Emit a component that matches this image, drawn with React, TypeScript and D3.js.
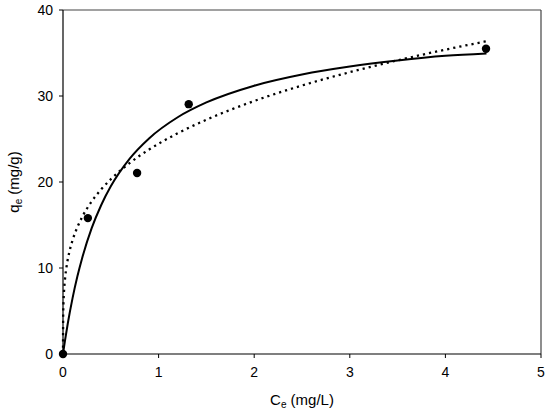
import React from 'react';
import * as d3 from 'd3';

// measured points (Ce, qe)
const ceObs = [0, 0.26, 0.775, 1.315, 4.425];
const qeObs = [0, 15.8, 21.05, 29.05, 35.5];

// solid fit curve
const ceSolid = [0, 0.02, 0.05, 0.1, 0.15, 0.2, 0.3, 0.4, 0.5, 0.7, 0.9, 1.2, 1.5, 2, 2.5, 3, 3.5, 4, 4.43];
const qeSolid = [0, 1.5, 3.55, 6.5, 9.0, 11.14, 14.63, 17.33, 19.5, 22.75, 25.07, 27.53, 29.25, 31.2, 32.5, 33.43, 34.13, 34.67, 34.95];

// dotted fit curve
const ceDot = [0, 0.002, 0.005, 0.01, 0.02, 0.04, 0.07, 0.1, 0.15, 0.2, 0.3, 0.4, 0.5, 0.7, 0.9, 1.2, 1.5, 2, 2.5, 3, 3.5, 4, 4.43];
const qeDot = [0, 4.66, 5.95, 7.16, 8.61, 10.36, 12.03, 13.23, 14.74, 15.92, 17.74, 19.15, 20.32, 22.23, 23.77, 25.67, 27.24, 29.42, 31.22, 32.77, 34.15, 35.39, 36.37];

const xTicks = [0, 1, 2, 3, 4, 5];
const yTicks = [0, 10, 20, 30, 40];

const W = 550;
const H = 418;
const margin = { top: 10, right: 9, bottom: 64, left: 63 };
const font = 'Arial, "Liberation Sans", sans-serif';

const App: React.FC = () => {
  const x = d3.scaleLinear().domain([0, 5]).range([margin.left, W - margin.right]);
  const y = d3.scaleLinear().domain([0, 40]).range([H - margin.bottom, margin.top]);

  const line = d3.line<[number, number]>()
    .x(d => x(d[0]))
    .y(d => y(d[1]))
    .curve(d3.curveMonotoneX);

  const solid = line(ceSolid.map((c, i) => [c, qeSolid[i]]));
  const dotted = line(ceDot.map((c, i) => [c, qeDot[i]]));

  const x0 = x(0), x1 = x(5), y0 = y(0), y1 = y(40);

  return (
    <svg width={W} height={H} style={{ position: 'absolute', left: 0, top: 0, background: '#fff' }}>
      {/* frame: top and right */}
      <line x1={x0} x2={x1} y1={y1} y2={y1} stroke="#444" strokeWidth={1.2} />
      <line x1={x1} x2={x1} y1={y1} y2={y0} stroke="#444" strokeWidth={1.2} />

      {/* y axis */}
      <line x1={x0} x2={x0} y1={y1} y2={y0} stroke="#000" strokeWidth={1.2} />
      {yTicks.map(t => (
        <g key={'y' + t}>
          <line x1={x0 - 4} x2={x0} y1={y(t)} y2={y(t)} stroke="#000" strokeWidth={1} />
          <text x={x0 - 10} y={y(t)} dy="0.35em" textAnchor="end" fontFamily={font} fontSize={14}>{t}</text>
        </g>
      ))}

      {/* x axis */}
      <line x1={x0} x2={x1} y1={y0} y2={y0} stroke="#000" strokeWidth={1.2} />
      {xTicks.map(t => (
        <g key={'x' + t}>
          <line x1={x(t)} x2={x(t)} y1={y0} y2={y0 + 4} stroke="#000" strokeWidth={1} />
          <text x={x(t)} y={377} textAnchor="middle" fontFamily={font} fontSize={14}>{t}</text>
        </g>
      ))}

      {/* axis titles */}
      <text x={(x0 + x1) / 2} y={405} textAnchor="middle" fontFamily={font} fontSize={15}>
        C<tspan fontSize={10} dy={3}>e</tspan><tspan dy={-3}> (mg/L)</tspan>
      </text>
      <text transform={`translate(19,${(y0 + y1) / 2}) rotate(-90)`} textAnchor="middle" fontFamily={font} fontSize={15}>
        q<tspan fontSize={10} dy={3}>e</tspan><tspan dy={-3}> (mg/g)</tspan>
      </text>

      {/* fit curves */}
      <path d={dotted ?? ''} fill="none" stroke="#000" strokeWidth={2.3} strokeDasharray="2.2,4" />
      <path d={solid ?? ''} fill="none" stroke="#000" strokeWidth={2} />

      {/* data points */}
      {ceObs.map((c, i) => (
        <circle key={i} cx={x(c)} cy={y(qeObs[i])} r={4.2} fill="#000" />
      ))}
    </svg>
  );
};

export default App;
